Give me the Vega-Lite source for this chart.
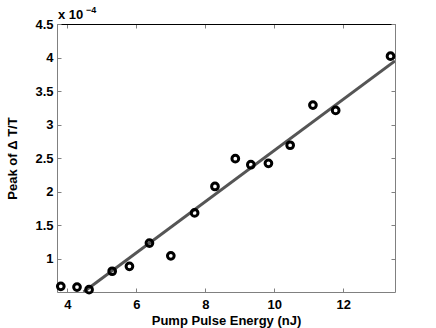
{
  "$schema": "https://vega.github.io/schema/vega-lite/v6.json",
  "width": 338,
  "height": 268,
  "autosize": {"type": "none"},
  "padding": {"left": 57, "top": 24, "right": 41, "bottom": 36},
  "background": "white",
  "config": {
    "view": {"stroke": null},
    "axis": {
      "grid": false,
      "domainColor": "#808080",
      "tickColor": "#808080",
      "tickSize": -4,
      "labelFont": "Liberation Sans",
      "labelFontWeight": "bold",
      "labelFontSize": 13,
      "labelColor": "#000000",
      "titleFont": "Liberation Sans",
      "titleFontWeight": "bold",
      "titleFontSize": 13,
      "titleColor": "#000000"
    }
  },
  "datasets": {
    "points": [
      {"energy": 3.81, "peak": 0.584},
      {"energy": 4.28, "peak": 0.573},
      {"energy": 4.63, "peak": 0.535},
      {"energy": 5.30, "peak": 0.81},
      {"energy": 5.80, "peak": 0.883},
      {"energy": 6.38, "peak": 1.23},
      {"energy": 7.00, "peak": 1.04},
      {"energy": 7.69, "peak": 1.68},
      {"energy": 8.28, "peak": 2.075},
      {"energy": 8.87, "peak": 2.49},
      {"energy": 9.32, "peak": 2.40},
      {"energy": 9.83, "peak": 2.42},
      {"energy": 10.46, "peak": 2.69},
      {"energy": 11.12, "peak": 3.29},
      {"energy": 11.78, "peak": 3.21},
      {"energy": 13.37, "peak": 4.02}
    ],
    "fit": [
      {"energy": 4.47, "peak": 0.5},
      {"energy": 13.5, "peak": 3.95}
    ],
    "exponent": [
      {"label": "x 10", "part": "base"},
      {"label": "−4", "part": "exp"}
    ]
  },
  "resolve": {"axis": {"x": "independent", "y": "independent"}},
  "layer": [
    {
      "data": {"name": "fit"},
      "mark": {"type": "line", "color": "#555555", "strokeWidth": 3, "clip": true},
      "encoding": {
        "x": {"field": "energy", "type": "quantitative",
              "scale": {"domain": [3.7, 13.5], "nice": false, "zero": false},
              "axis": {"orient": "top", "values": [4, 6, 8, 10, 12], "labels": false, "title": null, "domainColor": "#000000"}},
        "y": {"field": "peak", "type": "quantitative",
              "scale": {"domain": [0.5, 4.5], "nice": false, "zero": false},
              "axis": {"orient": "right", "values": [1, 1.5, 2, 2.5, 3, 3.5, 4, 4.5], "labels": false, "title": null}}
      }
    },
    {
      "data": {"name": "points"},
      "mark": {"type": "point", "shape": "circle", "filled": false, "color": "#000000", "strokeWidth": 3, "size": 45, "opacity": 1},
      "encoding": {
        "x": {"field": "energy", "type": "quantitative",
              "scale": {"domain": [3.7, 13.5], "nice": false, "zero": false},
              "axis": {"orient": "bottom", "values": [4, 6, 8, 10, 12], "title": "Pump Pulse Energy (nJ)", "labelPadding": 10, "titlePadding": 3}},
        "y": {"field": "peak", "type": "quantitative",
              "scale": {"domain": [0.5, 4.5], "nice": false, "zero": false},
              "axis": {"orient": "left", "values": [1, 1.5, 2, 2.5, 3, 3.5, 4, 4.5], "format": "~g", "title": "Peak of Δ T/T", "labelPadding": 8, "titlePadding": 15}}
      }
    },
    {
      "data": {"name": "exponent"},
      "transform": [{"filter": "datum.part === 'base'"}],
      "mark": {"type": "text", "align": "left", "baseline": "alphabetic", "dx": 1, "dy": -5, "font": "Liberation Sans", "fontWeight": "bold", "fontSize": 13, "color": "#000000"},
      "encoding": {
        "x": {"datum": 3.7, "type": "quantitative", "axis": null},
        "y": {"datum": 4.5, "type": "quantitative", "axis": null},
        "text": {"field": "label"}
      }
    },
    {
      "data": {"name": "exponent"},
      "transform": [{"filter": "datum.part === 'exp'"}],
      "mark": {"type": "text", "align": "left", "baseline": "alphabetic", "dx": 29, "dy": -11, "font": "Liberation Sans", "fontWeight": "bold", "fontSize": 9, "color": "#000000"},
      "encoding": {
        "x": {"datum": 3.7, "type": "quantitative", "axis": null},
        "y": {"datum": 4.5, "type": "quantitative", "axis": null},
        "text": {"field": "label"}
      }
    }
  ]
}
